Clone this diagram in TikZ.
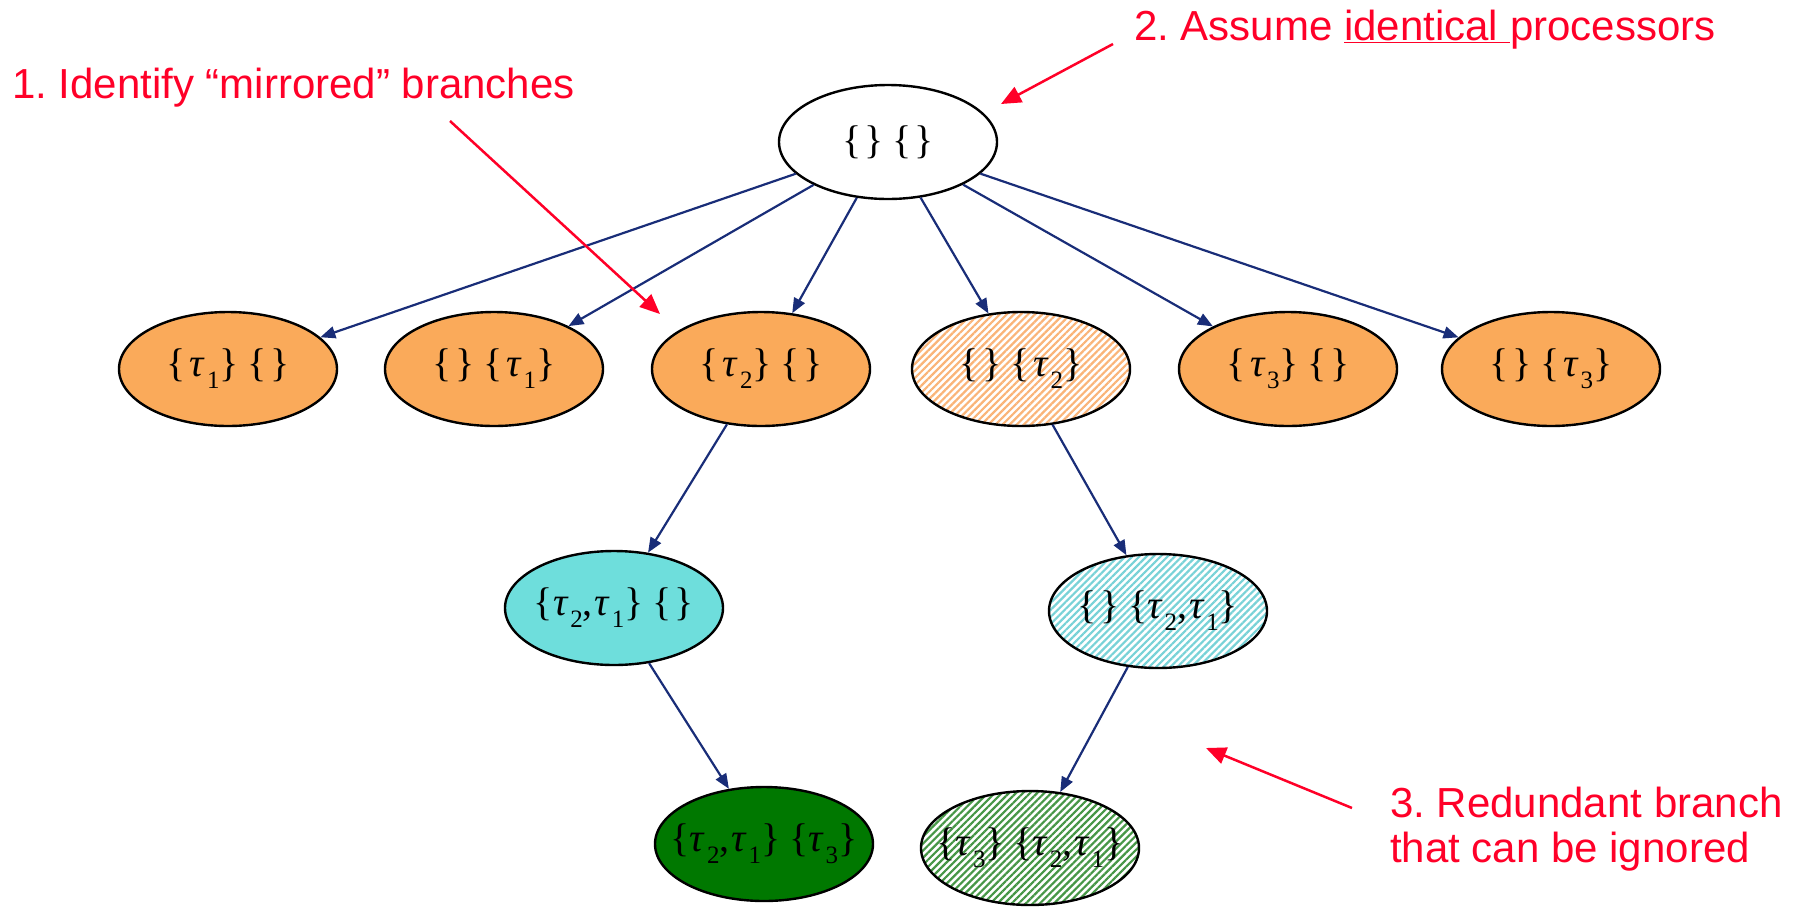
\documentclass[tikz,border=0pt]{standalone}
\usepackage{fontspec}
\setmainfont{Liberation Serif}
\newfontfamily\arialfont{Liberation Sans}
\usetikzlibrary{arrows.meta,patterns.meta,shapes.geometric}
\definecolor{orangeC}{RGB}{250,170,90}
\definecolor{cyanC}{RGB}{110,222,220}
\definecolor{greenC}{RGB}{0,120,0}
\definecolor{hatchOrange}{RGB}{250,180,120}
\definecolor{hatchCyan}{RGB}{120,210,215}
\definecolor{hatchGreen}{RGB}{70,150,70}
\definecolor{navyC}{RGB}{25,45,120}
\definecolor{redC}{RGB}{255,0,40}
\newcommand{\tk}[1]{\textit{τ}\hspace{0.04em}\raisebox{-0.3em}{\fontsize{25}{25}\selectfont #1}}
\newcommand{\ob}{\{}
\newcommand{\cb}{\}}
\newcommand{\es}{\{\hspace{0.08em}\}}
\newcommand{\gp}{\hspace{0.22em}}
\begin{document}
\frenchspacing
\begin{tikzpicture}[x=1pt,y=-1pt,
  st/.style={ellipse, draw=black, line width=2.4pt, minimum width=218pt, minimum height=114pt, inner xsep=-40pt, inner ysep=0pt, font=\fontsize{40}{44}\selectfont},
  plain/.style={st, fill=white},
  orangebox/.style={st, fill=orangeC},
  cyanbox/.style={st, fill=cyanC},
  greenbox/.style={st, fill=greenC},
  hatched/.style={st, pattern={Lines[angle=45,distance=5pt,line width=2.2pt]}, pattern color=#1},
  conn/.style={draw=navyC, line width=2.2pt, -{Triangle[length=15pt,width=12pt]}},
  note/.style={text=redC, inner sep=0pt, font=\arialfont\fontsize{42}{46}\selectfont},
  notearrow/.style={draw=redC, line width=2.5pt, -{Triangle[length=20pt,width=17pt]}}]
\useasboundingbox (0,0) rectangle (1809,911);

\node[plain] (root) at (888,142) {\es\gp\es};

\node[orangebox] (a1) at (228,369) {\ob\hspace{0.1em}\tk{1}\cb\gp\es};
\node[orangebox] (a2) at (494,369) {\es\gp\ob\hspace{0.1em}\tk{1}\cb};
\node[orangebox] (a3) at (761,369) {\ob\hspace{0.1em}\tk{2}\cb\gp\es};
\node[hatched=hatchOrange] (a4) at (1021,369) {\es\gp\ob\hspace{0.1em}\tk{2}\cb};
\node[orangebox] (a5) at (1288,369) {\ob\hspace{0.1em}\tk{3}\cb\gp\es};
\node[orangebox] (a6) at (1551,369) {\es\gp\ob\hspace{0.1em}\tk{3}\cb};

\node[cyanbox] (b1) at (614,608) {\ob\tk{2},\hspace{0.05em}\tk{1}\cb\gp\es};
\node[hatched=hatchCyan] (b2) at (1158,611) {\es\gp\ob\tk{2},\hspace{0.05em}\tk{1}\cb};

\node[greenbox] (c1) at (764,844) {\ob\tk{2},\hspace{0.05em}\tk{1}\cb\gp\ob\tk{3}\cb};
\node[hatched=hatchGreen] (c2) at (1030,848) {\ob\tk{3}\cb\gp\ob\tk{2},\hspace{0.05em}\tk{1}\cb};

\foreach \t in {a1,a2,a3,a4,a5,a6} \draw[conn] (root) -- (\t);
\draw[conn] (a3) -- (b1);
\draw[conn] (a4) -- (b2);
\draw[conn] (b1) -- (c1);
\draw[conn] (b2) -- (c2);

\node[note, anchor=base west] (n1) at (12,98) {1. Identify “mirrored” branches};
\node[note, anchor=base west] (n2) at (1134,40) {2. Assume \underline{identical\ }processors};
\node[note, anchor=base west] (n3a) at (1390,817) {3. Redundant branch};
\node[note, anchor=base west] (n3b) at (1390,862) {that can be ignored};

\coordinate (r1s) at (450,121);
\coordinate (r1e) at (660,314);
\coordinate (r2s) at (1113,44);
\coordinate (r2e) at (1001,104);
\coordinate (r3s) at (1352,808);
\coordinate (r3e) at (1206,748);
\draw[notearrow] (r1s) -- (r1e);
\draw[notearrow] (r2s) -- (r2e);
\draw[notearrow] (r3s) -- (r3e);
\end{tikzpicture}
\end{document}
